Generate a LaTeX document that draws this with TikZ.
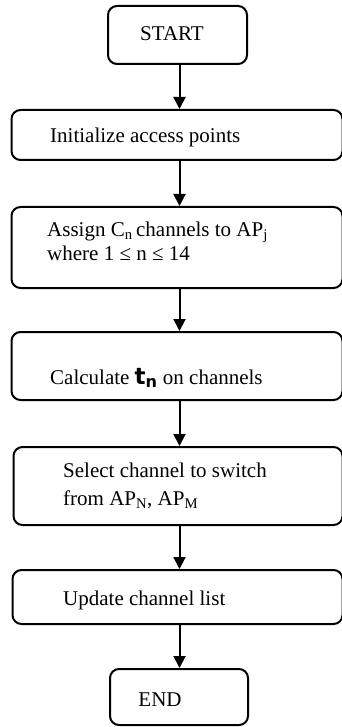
\documentclass[tikz,border=0pt]{standalone}
\usepackage{fontspec}
\setmainfont{Liberation Serif}
\newfontfamily\tnfont{DejaVu Sans}
\usetikzlibrary{arrows.meta}
\tikzset{
  box/.style={draw=black, line width=2pt, rounded corners=9pt, fill=none, inner sep=0pt},
  arr/.style={line width=2pt, -{Triangle[length=12pt,width=12pt]}},
  txt/.style={inner sep=0pt, anchor=base west, font=\fontsize{21}{21}\selectfont},
}
\begin{document}
\begin{tikzpicture}[x=1pt,y=-1pt]
\useasboundingbox (0,0) rectangle (341,727);
% boxes
\node[box, minimum width=139pt, minimum height=58pt] (start) at (177.5,35) {};
\node[box, minimum width=331pt, minimum height=50pt] (init) at (177,135) {};
\node[box, minimum width=331pt, minimum height=81pt] (assign) at (177,247.5) {};
\node[box, minimum width=331pt, minimum height=68pt] (calc) at (177,366) {};
\node[box, minimum width=329pt, minimum height=78pt] (select) at (178,486) {};
\node[box, minimum width=330pt, minimum height=54pt] (update) at (177.5,597) {};
\node[box, minimum width=138pt, minimum height=56pt] (end) at (179,697) {};
% texts
\node[txt, anchor=base] (tstart) at (172,41) {START};
\node[txt] (tinit) at (50,143) {Initialize access points};
\node[txt, align=left, font=\fontsize{21}{24}\selectfont] (tassign) at (47,260)
  {Assign C\textsubscript{n}\,channels to AP\textsubscript{j}\\where 1 ≤ n ≤ 14};
\node[txt] (tcalc) at (50,384) {Calculate {\tnfont\bfseries\fontsize{23}{23}\selectfont t\textsubscript{n}} on channels};
\node[txt] (tselect1) at (63,477) {Select channel to switch};
\node[txt] (tselect2) at (63,505) {from AP\textsubscript{N}, AP\textsubscript{M}};
\node[txt] (tupdate) at (63,605) {Update channel list};
\node[txt, anchor=base] (tend) at (160,706) {END};
% connectors
\coordinate (ax) at (179.5,0);
\draw[arr] (start.south -| ax) -- (init.north -| ax);
\draw[arr] (init.south -| ax) -- (assign.north -| ax);
\draw[arr] (assign.south -| ax) -- (calc.north -| ax);
\draw[arr] (calc.south -| ax) -- (select.north -| ax);
\draw[arr] (select.south -| ax) -- (update.north -| ax);
\draw[arr] (update.south -| ax) -- (end.north -| ax);
\end{tikzpicture}
\end{document}
